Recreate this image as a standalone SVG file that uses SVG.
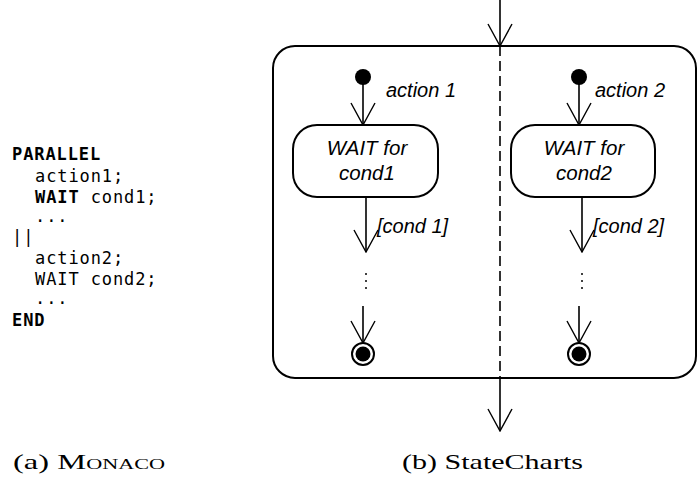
<svg xmlns="http://www.w3.org/2000/svg" width="698" height="480" viewBox="0 0 698 480">
<defs>
<style>
.code{font-family:"DejaVu Sans Mono","Liberation Mono",monospace;font-size:17px;letter-spacing:0.9px;fill:#000}
.b{font-weight:bold}
.lbl{font-family:"Liberation Sans",Arial,sans-serif;font-style:italic;font-size:20px;fill:#000}
.st{font-family:"Liberation Sans",Arial,sans-serif;font-style:italic;font-size:20.5px;fill:#000;text-anchor:middle}
.cap{font-family:"Liberation Serif","Times New Roman",serif;font-size:22px;fill:#000}
.ln{stroke:#000;stroke-width:1.6;fill:none}
.box{stroke:#000;stroke-width:2;fill:#fff}
</style>
<marker id="v" viewBox="-24 -13 25 26" refX="0" refY="0" markerWidth="25" markerHeight="26" markerUnits="userSpaceOnUse" orient="auto">
<path d="M-22,-12 L0,0 L-22,12" fill="none" stroke="#000" stroke-width="1.4"/>
</marker>
</defs>
<rect width="698" height="480" fill="#fff"/>
<g id="code">
<text class="code b" x="12" y="160">PARALLEL</text>
<text class="code" x="35" y="182">action1;</text>
<text class="code" x="35" y="203"><tspan class="b">WAIT</tspan> cond1;</text>
<text class="code" x="35" y="222">...</text>
<text class="code" x="12" y="243">||</text>
<text class="code" x="35" y="264">action2;</text>
<text class="code" x="35" y="285">WAIT cond2;</text>
<text class="code" x="35" y="304">...</text>
<text class="code b" x="12" y="326">END</text>
</g>
<g id="container">
<rect class="box" x="273" y="46" width="423" height="332" rx="22" ry="22"/>
</g>
<g id="connectors">
<line class="ln" x1="500" y1="0" x2="500" y2="46" marker-end="url(#v)"/>
<line x1="500" y1="46" x2="500" y2="378" stroke="#000" stroke-width="1.6" stroke-dasharray="10,5"/>
<line class="ln" x1="500" y1="378" x2="500" y2="431" marker-end="url(#v)"/>
<line class="ln" x1="363" y1="78" x2="363" y2="125" marker-end="url(#v)"/>
<line class="ln" x1="366" y1="197" x2="366" y2="252" marker-end="url(#v)"/>
<line class="ln" x1="363" y1="306" x2="363" y2="343" marker-end="url(#v)"/>
<line class="ln" x1="579" y1="78" x2="579" y2="125" marker-end="url(#v)"/>
<line class="ln" x1="582" y1="197" x2="582" y2="252" marker-end="url(#v)"/>
<line class="ln" x1="579" y1="306" x2="579" y2="343" marker-end="url(#v)"/>
<text class="lbl" x="386" y="97">action 1</text>
<text class="lbl" x="595" y="97">action 2</text>
<text class="lbl" x="377" y="233">[cond 1]</text>
<text class="lbl" x="593" y="233">[cond 2]</text>
</g>
<g id="init1"><circle cx="363" cy="77" r="8" fill="#000"/></g>
<g id="init2"><circle cx="579" cy="77" r="8" fill="#000"/></g>
<g id="wait1">
<rect class="box" x="293" y="125" width="145" height="72" rx="24" ry="24"/>
<text class="st" x="367" y="155">WAIT for</text>
<text class="st" x="367" y="180">cond1</text>
</g>
<g id="wait2">
<rect class="box" x="511" y="125" width="144" height="72" rx="24" ry="24"/>
<text class="st" x="584" y="155">WAIT for</text>
<text class="st" x="584" y="180">cond2</text>
</g>
<g id="dots1"><circle cx="366" cy="274" r="1" fill="#000"/><circle cx="366" cy="281" r="1" fill="#000"/><circle cx="366" cy="288" r="1" fill="#000"/></g>
<g id="dots2"><circle cx="582" cy="274" r="1" fill="#000"/><circle cx="582" cy="281" r="1" fill="#000"/><circle cx="582" cy="288" r="1" fill="#000"/></g>
<g id="final1"><circle cx="363" cy="354" r="11" fill="#fff" stroke="#000" stroke-width="2"/><circle cx="363" cy="354" r="7.5" fill="#000"/></g>
<g id="final2"><circle cx="579" cy="354" r="11" fill="#fff" stroke="#000" stroke-width="2"/><circle cx="579" cy="354" r="7.5" fill="#000"/></g>
<g id="captions">
<text class="cap" x="13" y="469" textLength="152" lengthAdjust="spacingAndGlyphs">(a) <tspan font-variant="small-caps">Monaco</tspan></text>
<text class="cap" x="402" y="469" textLength="181" lengthAdjust="spacingAndGlyphs">(b) StateCharts</text>
</g>
</svg>
